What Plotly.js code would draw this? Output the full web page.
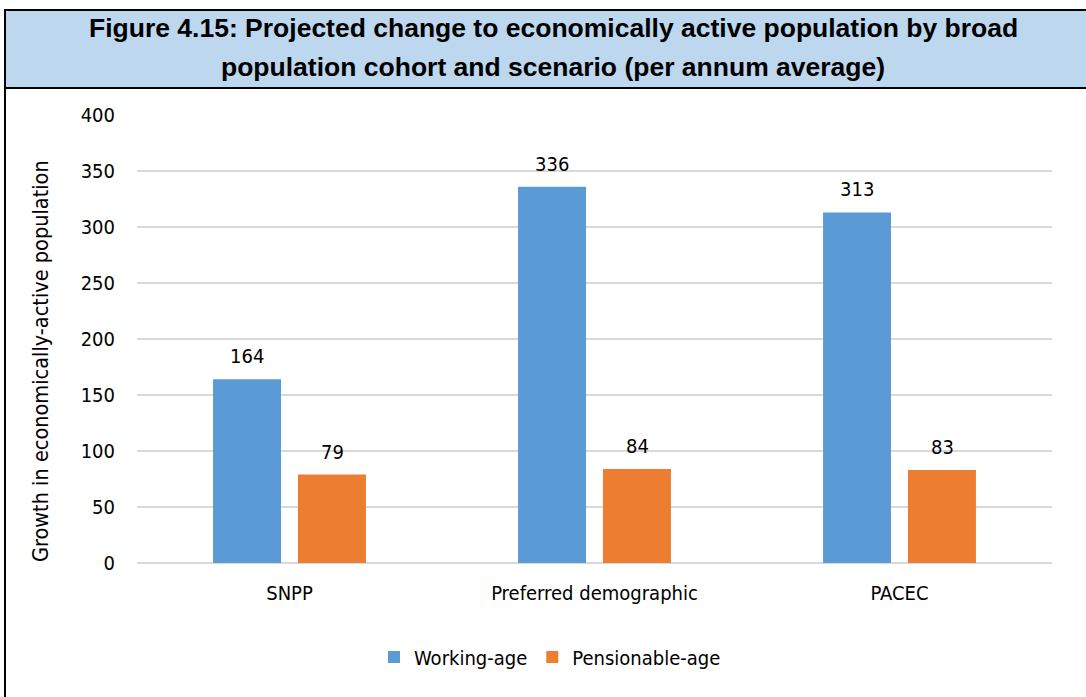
<!DOCTYPE html>
<html>
<head>
<meta charset="utf-8">
<script src="https://cdn.plot.ly/plotly-3.0.1.min.js"></script>
<style>html,body{margin:0;padding:0;background:#fff;}#chart{width:1086px;height:697px;}</style>
</head>
<body>
<div id="chart"></div>
<script>
const categories = ["SNPP", "Preferred demographic", "PACEC"];
const workingAge = [164, 336, 313];
const pensionableAge = [79, 84, 83];
const seriesNames = ["Working-age", "Pensionable-age"];
const yTicks = [0, 50, 100, 150, 200, 250, 300, 350, 400];
const titleLines = [
  "Figure 4.15: Projected change to economically active population by broad",
  "population cohort and scenario (per annum average)"
];
const yTitle = "Growth in economically-active population";

const W = 1086, H = 697;
const L = 137, R = 34, T = 115, B = 134;
const pw = W - L - R, ph = H - T - B;
const px = v => (v - L) / pw;
const py = v => (H - B - v) / ph;

const narrow = "Liberation Sans Narrow, Arial Narrow, DejaVu Sans Condensed, sans-serif";
const bold = "Liberation Sans, Arial, sans-serif";
const fs = 20;

const traces = [
  {type: "bar", x: categories, y: workingAge, name: seriesNames[0], marker: {color: "#5B9BD5"}, hoverinfo: "none"},
  {type: "bar", x: categories, y: pensionableAge, name: seriesNames[1], marker: {color: "#ED7D31"}, hoverinfo: "none"}
];

const slotPx = 42.5;
const annotations = [];
[workingAge, pensionableAge].forEach((vals, s) => {
  vals.forEach((v, i) => {
    annotations.push({xref: "x", yref: "y", x: categories[i], y: v, text: String(v),
      showarrow: false, yanchor: "bottom", yshift: 9, xshift: s === 0 ? -slotPx : slotPx,
      font: {family: narrow, size: fs, color: "#000"}});
  });
});
annotations.push({xref: "paper", yref: "paper", x: px(553), y: py(28), text: titleLines[0], showarrow: false,
  xanchor: "center", yanchor: "middle", font: {family: bold, size: 26.5, color: "#000", weight: "bold"}});
annotations.push({xref: "paper", yref: "paper", x: px(553), y: py(67), text: titleLines[1], showarrow: false,
  xanchor: "center", yanchor: "middle", font: {family: bold, size: 26.5, color: "#000", weight: "bold"}});
annotations.push({xref: "paper", yref: "paper", x: px(40), y: py(361), text: yTitle, showarrow: false, textangle: -90,
  xanchor: "center", yanchor: "middle", font: {family: narrow, size: 21.5, color: "#000"}});

const layout = {
  width: W, height: H,
  margin: {l: L, r: R, t: T, b: B, pad: 0},
  paper_bgcolor: "#fff", plot_bgcolor: "#fff",
  barmode: "group", bargap: 0.443, bargroupgap: 0.2,
  showlegend: true,
  legend: {orientation: "h", x: px(550), xanchor: "center", y: py(657), yanchor: "middle",
    font: {family: narrow, size: fs, color: "#000"}, itemwidth: 30, tracegroupgap: 0},
  xaxis: {type: "category", showgrid: false, showline: false, zeroline: false,
    ticks: "outside", ticklen: 12, tickcolor: "rgba(0,0,0,0)",
    tickfont: {family: narrow, size: fs, color: "#000"}, fixedrange: true},
  yaxis: {range: [0, 400], tickvals: yTicks, ticktext: yTicks.map(String),
    showgrid: true, gridcolor: "#D9D9D9", gridwidth: 1.5, zeroline: true, zerolinecolor: "#D9D9D9", zerolinewidth: 1.5,
    showline: false, ticks: "outside", ticklen: 17, tickcolor: "rgba(0,0,0,0)",
    tickfont: {family: narrow, size: fs, color: "#000"}, fixedrange: true},
  shapes: [
    {type: "rect", xref: "paper", yref: "paper", x0: px(5), x1: px(1092), y0: py(88), y1: py(10),
      fillcolor: "#BDD7EE", line: {color: "#000", width: 2}, layer: "below"},
    {type: "line", xref: "paper", yref: "paper", x0: px(5), x1: px(5), y0: py(88), y1: py(705),
      line: {color: "#000", width: 2}}
  ],
  annotations: annotations
};

Plotly.newPlot("chart", traces, layout, {displayModeBar: false, staticPlot: true});
</script>
</body>
</html>
